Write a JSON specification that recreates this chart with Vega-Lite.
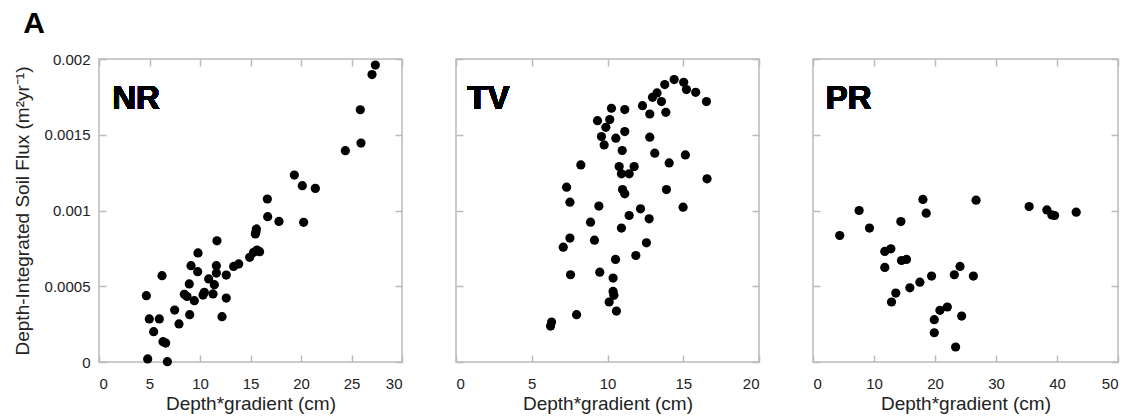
{
  "$schema": "https://vega.github.io/schema/vega-lite/v6.json",
  "padding": {"left": 12, "top": 9, "right": 5, "bottom": 5},
  "background": "white",
  "title": {"text": "A", "anchor": "start", "frame": "bounds", "fontSize": 30, "fontWeight": "bold", "font": "Liberation Sans", "color": "black", "dx": 11, "offset": 12},
  "datasets": {
    "NR": [
      {"x": 4.69, "y": 0.000438}, {"x": 4.82, "y": 0.00002}, {"x": 4.98, "y": 0.000284}, {"x": 5.41, "y": 0.0002},
      {"x": 5.97, "y": 0.000284}, {"x": 6.24, "y": 0.00057}, {"x": 6.34, "y": 0.000134}, {"x": 6.6, "y": 0.000125},
      {"x": 6.77, "y": 0.000002}, {"x": 7.49, "y": 0.000343}, {"x": 7.92, "y": 0.000251}, {"x": 8.94, "y": 0.000515},
      {"x": 8.98, "y": 0.000312}, {"x": 8.45, "y": 0.000447}, {"x": 8.71, "y": 0.000433}, {"x": 9.11, "y": 0.000636},
      {"x": 9.44, "y": 0.000405}, {"x": 9.77, "y": 0.000596}, {"x": 9.8, "y": 0.00072}, {"x": 10.3, "y": 0.000442},
      {"x": 10.43, "y": 0.00046}, {"x": 10.86, "y": 0.000548}, {"x": 11.29, "y": 0.000449}, {"x": 11.42, "y": 0.00051},
      {"x": 11.62, "y": 0.000636}, {"x": 11.68, "y": 0.0008}, {"x": 11.62, "y": 0.000587}, {"x": 12.18, "y": 0.000299},
      {"x": 12.6, "y": 0.000422}, {"x": 12.6, "y": 0.000574}, {"x": 13.33, "y": 0.000631}, {"x": 13.83, "y": 0.000647},
      {"x": 14.92, "y": 0.000691}, {"x": 15.31, "y": 0.000724}, {"x": 15.64, "y": 0.000739}, {"x": 15.9, "y": 0.000728},
      {"x": 15.48, "y": 0.000845}, {"x": 15.58, "y": 0.000878}, {"x": 15.54, "y": 0.00086}, {"x": 16.67, "y": 0.001076},
      {"x": 16.7, "y": 0.000959}, {"x": 17.82, "y": 0.000928}, {"x": 19.34, "y": 0.001234}, {"x": 20.13, "y": 0.001164},
      {"x": 20.26, "y": 0.000922}, {"x": 21.42, "y": 0.001146}, {"x": 24.39, "y": 0.001395}, {"x": 25.87, "y": 0.001665},
      {"x": 25.94, "y": 0.001445}, {"x": 27.03, "y": 0.001897}, {"x": 27.36, "y": 0.00196}
    ],
    "TV": [
      {"x": 6.24, "y": 0.000237}, {"x": 6.31, "y": 0.000264}, {"x": 7.96, "y": 0.000312}, {"x": 7.08, "y": 0.000758},
      {"x": 7.52, "y": 0.000818}, {"x": 7.56, "y": 0.000576}, {"x": 7.3, "y": 0.001154}, {"x": 7.52, "y": 0.001055},
      {"x": 8.24, "y": 0.001301}, {"x": 8.88, "y": 0.000923}, {"x": 9.14, "y": 0.000804}, {"x": 9.43, "y": 0.001029},
      {"x": 9.49, "y": 0.000593}, {"x": 9.34, "y": 0.001593}, {"x": 9.6, "y": 0.001488}, {"x": 9.78, "y": 0.001433},
      {"x": 9.89, "y": 0.001549}, {"x": 10.15, "y": 0.0016}, {"x": 10.26, "y": 0.001675}, {"x": 10.55, "y": 0.001477},
      {"x": 10.11, "y": 0.000396}, {"x": 10.37, "y": 0.000554}, {"x": 10.37, "y": 0.000466}, {"x": 10.42, "y": 0.00044},
      {"x": 10.53, "y": 0.000677}, {"x": 10.59, "y": 0.000336}, {"x": 10.77, "y": 0.00129}, {"x": 10.92, "y": 0.000884},
      {"x": 10.97, "y": 0.001396}, {"x": 10.92, "y": 0.001242}, {"x": 10.99, "y": 0.001138}, {"x": 11.14, "y": 0.00111},
      {"x": 11.14, "y": 0.001666}, {"x": 11.14, "y": 0.001521}, {"x": 11.43, "y": 0.001242}, {"x": 11.43, "y": 0.000967},
      {"x": 11.76, "y": 0.00129}, {"x": 11.87, "y": 0.000703}, {"x": 12.18, "y": 0.001011}, {"x": 12.31, "y": 0.001692},
      {"x": 12.57, "y": 0.000787}, {"x": 12.75, "y": 0.000945}, {"x": 12.79, "y": 0.001637}, {"x": 12.79, "y": 0.001484},
      {"x": 12.97, "y": 0.001747}, {"x": 13.12, "y": 0.001378}, {"x": 13.27, "y": 0.001776}, {"x": 13.56, "y": 0.001719},
      {"x": 13.78, "y": 0.001831}, {"x": 13.85, "y": 0.001648}, {"x": 13.89, "y": 0.001138}, {"x": 14.07, "y": 0.001314},
      {"x": 14.4, "y": 0.001864}, {"x": 15.03, "y": 0.001846}, {"x": 15.21, "y": 0.001798}, {"x": 15.82, "y": 0.00178},
      {"x": 16.53, "y": 0.001719}, {"x": 15.14, "y": 0.001367}, {"x": 16.57, "y": 0.001209}, {"x": 14.99, "y": 0.001022}
    ],
    "PR": [
      {"x": 4.38, "y": 0.000835}, {"x": 7.56, "y": 0.001}, {"x": 9.26, "y": 0.000884}, {"x": 11.77, "y": 0.00073},
      {"x": 12.76, "y": 0.000747}, {"x": 11.77, "y": 0.000624}, {"x": 13.57, "y": 0.000455}, {"x": 12.87, "y": 0.000396},
      {"x": 14.4, "y": 0.000927}, {"x": 14.51, "y": 0.00067}, {"x": 15.33, "y": 0.000677}, {"x": 15.88, "y": 0.00049},
      {"x": 17.52, "y": 0.000527}, {"x": 18.02, "y": 0.001073}, {"x": 18.56, "y": 0.000982}, {"x": 19.44, "y": 0.000567},
      {"x": 19.88, "y": 0.000279}, {"x": 19.88, "y": 0.000193}, {"x": 20.81, "y": 0.000341}, {"x": 22.02, "y": 0.000363},
      {"x": 23.17, "y": 0.000576}, {"x": 24.1, "y": 0.000631}, {"x": 23.38, "y": 0.000099}, {"x": 24.37, "y": 0.000303},
      {"x": 26.29, "y": 0.000567}, {"x": 26.73, "y": 0.001068}, {"x": 35.43, "y": 0.001026}, {"x": 38.34, "y": 0.001004},
      {"x": 39.16, "y": 0.000971}, {"x": 39.6, "y": 0.000967}, {"x": 43.15, "y": 0.000989}
    ]
  },
  "spacing": 50,
  "hconcat": [
    {
      "width": 303, "height": 303,
      "data": {"name": "NR"},
      "layer": [
        {
          "mark": {"type": "point", "filled": true, "color": "black", "opacity": 1, "size": 85},
          "encoding": {
            "x": {"field": "x", "type": "quantitative", "scale": {"domain": [0, 30], "nice": false, "zero": false},
                  "axis": {"orient": "bottom", "values": [0, 5, 10, 15, 20, 25, 30], "title": "Depth*gradient (cm)"}},
            "y": {"field": "y", "type": "quantitative", "scale": {"domain": [0, 0.002], "nice": false},
                  "axis": {"orient": "left", "values": [0, 0.0005, 0.001, 0.0015, 0.002], "format": "~g", "title": "Depth-Integrated Soil Flux (m²yr⁻¹)"}}
          }
        },
        {
          "mark": {"type": "point", "opacity": 0},
          "encoding": {
            "x": {"field": "x", "type": "quantitative", "axis": {"orient": "top", "values": [0, 5, 10, 15, 20, 25, 30], "labels": false, "title": null}},
            "y": {"field": "y", "type": "quantitative", "axis": {"orient": "right", "values": [0, 0.0005, 0.001, 0.0015, 0.002], "labels": false, "title": null}}
          }
        },
        {
          "mark": {"type": "text", "align": "left", "baseline": "alphabetic", "fontSize": 33, "fontWeight": "bold", "font": "Liberation Sans", "color": "black"},
          "encoding": {
            "x": {"datum": 1.3, "type": "quantitative", "axis": null},
            "y": {"datum": 0.00167, "type": "quantitative", "axis": null},
            "text": {"value": "NR"}
          }
        }
      ],
      "resolve": {"axis": {"x": "independent", "y": "independent"}}
    },
    {
      "width": 303, "height": 303,
      "data": {"name": "TV"},
      "layer": [
        {
          "mark": {"type": "point", "filled": true, "color": "black", "opacity": 1, "size": 85},
          "encoding": {
            "x": {"field": "x", "type": "quantitative", "scale": {"domain": [0, 20], "nice": false, "zero": false},
                  "axis": {"orient": "bottom", "values": [0, 5, 10, 15, 20], "title": "Depth*gradient (cm)"}},
            "y": {"field": "y", "type": "quantitative", "scale": {"domain": [0, 0.002], "nice": false},
                  "axis": {"orient": "left", "values": [0, 0.0005, 0.001, 0.0015, 0.002], "labels": false, "title": null}}
          }
        },
        {
          "mark": {"type": "point", "opacity": 0},
          "encoding": {
            "x": {"field": "x", "type": "quantitative", "axis": {"orient": "top", "values": [0, 5, 10, 15, 20], "labels": false, "title": null}},
            "y": {"field": "y", "type": "quantitative", "axis": {"orient": "right", "values": [0, 0.0005, 0.001, 0.0015, 0.002], "labels": false, "title": null}}
          }
        },
        {
          "mark": {"type": "text", "align": "left", "baseline": "alphabetic", "fontSize": 33, "fontWeight": "bold", "font": "Liberation Sans", "color": "black"},
          "encoding": {
            "x": {"datum": 0.75, "type": "quantitative", "axis": null},
            "y": {"datum": 0.00167, "type": "quantitative", "axis": null},
            "text": {"value": "TV"}
          }
        }
      ],
      "resolve": {"axis": {"x": "independent", "y": "independent"}}
    },
    {
      "width": 305, "height": 303,
      "data": {"name": "PR"},
      "layer": [
        {
          "mark": {"type": "point", "filled": true, "color": "black", "opacity": 1, "size": 85},
          "encoding": {
            "x": {"field": "x", "type": "quantitative", "scale": {"domain": [0, 50], "nice": false, "zero": false},
                  "axis": {"orient": "bottom", "values": [0, 10, 20, 30, 40, 50], "title": "Depth*gradient (cm)"}},
            "y": {"field": "y", "type": "quantitative", "scale": {"domain": [0, 0.002], "nice": false},
                  "axis": {"orient": "left", "values": [0, 0.0005, 0.001, 0.0015, 0.002], "labels": false, "title": null}}
          }
        },
        {
          "mark": {"type": "point", "opacity": 0},
          "encoding": {
            "x": {"field": "x", "type": "quantitative", "axis": {"orient": "top", "values": [0, 10, 20, 30, 40, 50], "labels": false, "title": null}},
            "y": {"field": "y", "type": "quantitative", "axis": {"orient": "right", "values": [0, 0.0005, 0.001, 0.0015, 0.002], "labels": false, "title": null}}
          }
        },
        {
          "mark": {"type": "text", "align": "left", "baseline": "alphabetic", "fontSize": 33, "fontWeight": "bold", "font": "Liberation Sans", "color": "black"},
          "encoding": {
            "x": {"datum": 2.1, "type": "quantitative", "axis": null},
            "y": {"datum": 0.00167, "type": "quantitative", "axis": null},
            "text": {"value": "PR"}
          }
        }
      ],
      "resolve": {"axis": {"x": "independent", "y": "independent"}}
    }
  ],
  "config": {
    "font": "Liberation Sans",
    "view": {"stroke": "#bbbbbb", "strokeWidth": 1.5},
    "axis": {
      "domain": false,
      "grid": false,
      "ticks": true,
      "tickSize": 7,
      "offset": -7,
      "tickColor": "#bbbbbb",
      "tickWidth": 1.5,
      "labelFont": "Liberation Sans",
      "labelFontSize": 15,
      "labelColor": "#222222",
      "titleFont": "Liberation Sans",
      "titleFontSize": 19,
      "titleFontWeight": "normal",
      "titleColor": "#222222"
    },
    "axisBottom": {"labelPadding": 14, "titlePadding": 3},
    "axisLeft": {"labelPadding": 9, "titlePadding": 12}
  }
}
